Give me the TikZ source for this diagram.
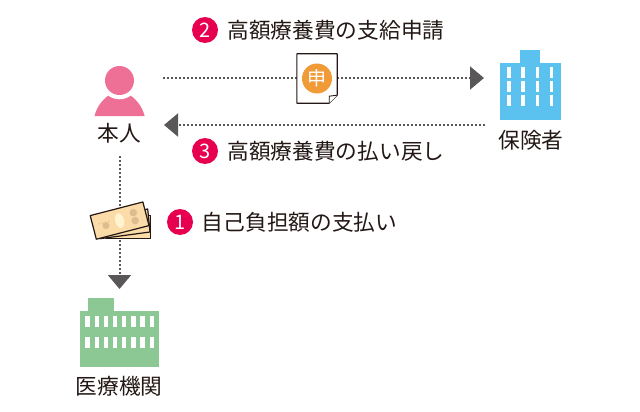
\documentclass[tikz,border=0pt]{standalone}
\usepackage{fontspec}
\setmainfont{Noto Sans CJK JP}
\usetikzlibrary{arrows.meta,positioning,calc}
\definecolor{ink}{HTML}{231815}
\definecolor{flowgrey}{HTML}{595757}
\definecolor{pink}{HTML}{EE7097}
\definecolor{badge}{HTML}{E6004F}
\definecolor{sky}{HTML}{5BC2F0}
\definecolor{leaf}{HTML}{8CC894}
\definecolor{stamp}{HTML}{F19A38}
\definecolor{note}{HTML}{FBDCA8}
\definecolor{notemark}{HTML}{DFBC90}
\definecolor{noteoval}{HTML}{FFF3D0}
\tikzstyle{flow}=[flowgrey,line width=2pt,dash pattern=on 2pt off 2pt]
\tikzstyle{tip}=[-{Triangle[length=14pt,width=23pt]}]
\tikzstyle{caption}=[ink,inner sep=0pt,font=\fontsize{21.7}{21.7}\selectfont]
\tikzstyle{badgemark}=[circle,fill=badge,text=white,inner sep=0pt,minimum size=26pt,font=\fontsize{20}{20}\selectfont]
\tikzstyle{skyblock}=[rectangle,fill=sky,inner sep=0pt]
\tikzstyle{leafblock}=[rectangle,fill=leaf,inner sep=0pt]
\tikzstyle{banknote}=[fill=note,draw=ink,line width=1.2pt,line join=round]

\begin{document}
\begin{tikzpicture}[x=1pt,y=-1pt]
    \useasboundingbox (0,0) rectangle (640,412);

    % person
    \node[circle,inner sep=0pt,minimum size=29pt] (head) at (119.5,80.5) {};
    \fill[pink] (94.5,116) .. controls (97,106) and (104,97) .. (113,93) -- (126,93) .. controls (135,97) and (142,106) .. (144.7,116) -- cycle;
    \fill[white] (head) circle (18.8pt);
    \fill[pink] (head) circle (14.5pt);
    \node[caption] (honnin) at (119,133) {本人};

    % buildings
    \node[skyblock,minimum width=20pt,minimum height=14pt] (kenpotop) at (530,57) {};
    \node[skyblock,minimum width=61pt,minimum height=57pt] (kenpo) at (530.5,91.5) {};
    \foreach \wx in {509,523,537.5,551.5}
      \foreach \wy in {72.2,86.8,100.8}
        \fill[white] (\wx-1.8,\wy-5.4) rectangle (\wx+1.8,\wy+5.4);
    \node[caption] (hoken) at (531,140) {保険者};

    \node[leafblock,minimum width=26pt,minimum height=13pt] (iryotop) at (100.5,304.7) {};
    \node[leafblock,minimum width=79pt,minimum height=56pt] (iryo) at (119.5,339) {};
    \foreach \wx in {87.3,96.7,105.7,115,124,133.3,142.3,151.7}
      \foreach \wy in {321.7,342.2}
        \fill[white] (\wx-2.2,\wy-5.6) rectangle (\wx+2.2,\wy+5.6);
    \node[caption] (kikan) at (119,386) {医療機関};

    % connectors
    \node[inner sep=0pt,minimum width=40pt,minimum height=49pt] (form) at (317,78.5) {};
    \coordinate (p1) at (163,78);
    \coordinate (p2) at (484,78);
    \coordinate (q1) at (485,125);
    \coordinate (q2) at (164,125);
    \coordinate (r1) at (119.5,156);
    \coordinate (r2) at (119.5,289);
    \draw[flow] (p1) -- (p1-|form.west);
    \draw[flow,tip] (p2-|form.east) -- (p2);
    \draw[flow,tip] (q1) -- (q2);
    \draw[flow,tip] (r1) -- (r2);

    % application form
    \draw[ink,fill=white,line width=1.1pt,line join=round] (form.north west) -- (form.north east) -- ($(form.south east)+(0,-8)$) -- ($(form.south east)+(-8,0)$) -- (form.south west) -- cycle;
    \draw[ink,fill=white,line width=0.9pt,line join=round] ($(form.south east)+(0,-8)$) -- ($(form.south east)+(-8,-7)$) -- ($(form.south east)+(-8,0)$);
    \node[circle,fill=stamp,text=white,inner sep=0pt,minimum size=30pt,font=\fontsize{19}{19}\selectfont] (shin) at (form) {申};

    % money
    \draw[banknote] (106,215.7) rectangle (150.7,238.7);
    \draw[banknote] (96,222) -- (147.7,209) -- (150,232) -- (100,238.7) -- cycle;
    \node[inner sep=0pt,minimum width=54pt,minimum height=24pt,rotate=14.5] (money) at (119.6,220.6) {};
    \draw[banknote] (money.north west) -- (money.north east) -- (money.south east) -- (money.south west) -- cycle;
    \fill[noteoval,rotate around={14.5:(money)}] (money) ellipse (4.5pt and 7.5pt);
    \fill[notemark] ($(money)+(13.7,-8)$) circle (3.8pt);
    \fill[notemark] ($(money)+(15.5,0)$) circle (3.8pt);
    \fill[notemark] ($(money)+(-13.6,5)$) circle (3.5pt);
    \foreach \mx in {-20,-17,-14,-11}
      \fill[notemark] ($(money)+(\mx,-2-\mx*0.26)$) circle (0.8pt);

    % labels
    \node[badgemark] (two) at (205,30) {2};
    \node[caption] (twotext) [right=9 of two] {高額療養費の支給申請};
    \node[badgemark] (three) at (205,151) {3};
    \node[caption] (threetext) [right=9 of three] {高額療養費の払い戻し};
    \node[badgemark] (one) at (180,222) {1};
    \node[caption] (onetext) [right=8.5 of one] {自己負担額の支払い};
\end{tikzpicture}
\end{document}
